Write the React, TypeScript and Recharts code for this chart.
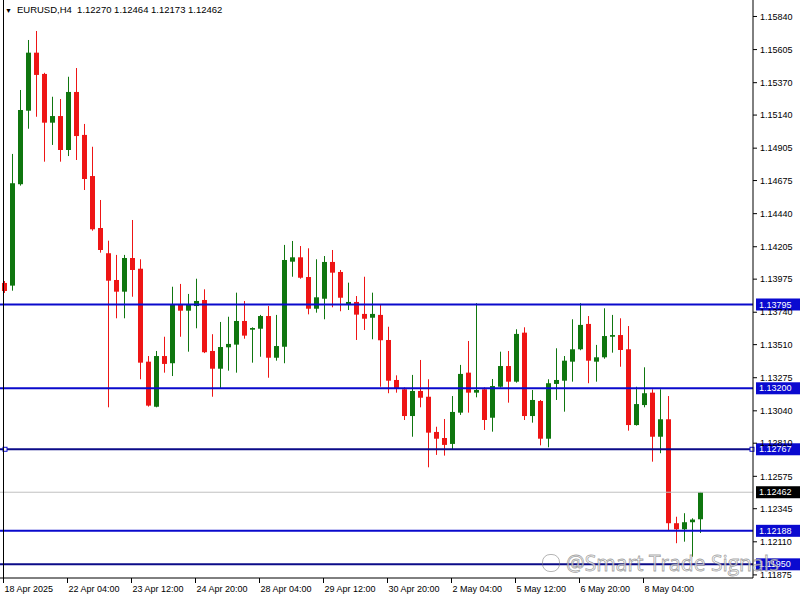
import React from 'react';
import { ComposedChart, Bar, XAxis, YAxis, ReferenceLine } from 'recharts';

// EURUSD H4 candles
const opens = [
  1.13948, 1.13929, 1.14649, 1.15171, 1.15583, 1.15432, 1.15086, 1.15133, 1.14892, 1.15304,
  1.14999, 1.14707, 1.14338, 1.14159, 1.13969, 1.13886, 1.14125, 1.14049, 1.13389, 1.13069,
  1.13429, 1.13378, 1.13792, 1.13751, 1.13784, 1.13827, 1.13465, 1.13339, 1.13491, 1.13510,
  1.13678, 1.13616, 1.13623, 1.13713, 1.13417, 1.13495, 1.14099, 1.14130, 1.13990, 1.13765,
  1.13836, 1.14097, 1.14026, 1.13794, 1.13813, 1.13728, 1.13701, 1.13721, 1.13543, 1.13259,
  1.13193, 1.13003, 1.13181, 1.13140, 1.12890, 1.12847, 1.12805, 1.13027, 1.13311, 1.13169,
  1.13193, 1.12991, 1.13211, 1.13358, 1.13247, 1.13595, 1.13003, 1.13110, 1.12842, 1.13231,
  1.13254, 1.13389, 1.13477, 1.13657, 1.13389, 1.13420, 1.13566, 1.13578, 1.13477, 1.12939,
  1.13081, 1.13169, 1.12856, 1.12980, 1.12242, 1.12199, 1.12249, 1.12270,
];
const highs = [
  1.13962, 1.14864, 1.15318, 1.15673, 1.15737, 1.15440, 1.15270, 1.15254, 1.15412, 1.15474,
  1.15077, 1.14915, 1.14537, 1.14248, 1.14147, 1.14147, 1.14395, 1.14116, 1.13429, 1.13465,
  1.13566, 1.13921, 1.13941, 1.13870, 1.13978, 1.13903, 1.13584, 1.13671, 1.13708, 1.13879,
  1.13820, 1.13633, 1.13721, 1.13784, 1.13721, 1.14218, 1.14246, 1.14210, 1.14194, 1.14116,
  1.14139, 1.14182, 1.14040, 1.13950, 1.13855, 1.13992, 1.13879, 1.13792, 1.13637, 1.13292,
  1.13207, 1.13295, 1.13401, 1.13264, 1.12927, 1.12982, 1.13145, 1.13366, 1.13536, 1.13804,
  1.13207, 1.13266, 1.13460, 1.13465, 1.13619, 1.13633, 1.13188, 1.13117, 1.13264, 1.13484,
  1.13429, 1.13690, 1.13804, 1.13713, 1.13508, 1.13768, 1.13721, 1.13697, 1.13642, 1.13211,
  1.13349, 1.13193, 1.13193, 1.13145, 1.12288, 1.12313, 1.12277, 1.12464,
];
const lows = [
  1.13877, 1.13893, 1.14639, 1.15043, 1.15128, 1.14809, 1.14928, 1.14809, 1.14849, 1.14821,
  1.14608, 1.14319, 1.14163, 1.13065, 1.13697, 1.13697, 1.13850, 1.13264, 1.13070, 1.13065,
  1.13311, 1.13287, 1.13566, 1.13460, 1.13626, 1.13450, 1.13140, 1.13200, 1.13325, 1.13311,
  1.13552, 1.13382, 1.13424, 1.13275, 1.13396, 1.13378, 1.13992, 1.13978, 1.13725, 1.13737,
  1.13690, 1.13775, 1.13747, 1.13756, 1.13543, 1.13614, 1.13548, 1.13211, 1.13165, 1.13169,
  1.12975, 1.12856, 1.13065, 1.12639, 1.12727, 1.12722, 1.12767, 1.13011, 1.13027, 1.13136,
  1.12904, 1.12892, 1.13205, 1.13098, 1.13240, 1.12975, 1.12956, 1.12795, 1.12781, 1.13117,
  1.13034, 1.13247, 1.13470, 1.13236, 1.13247, 1.13410, 1.13453, 1.13353, 1.12899, 1.12935,
  1.13065, 1.12679, 1.12739, 1.12194, 1.12100, 1.12111, 1.12004, 1.12173,
];
const closes = [
  1.13891, 1.14656, 1.15176, 1.15583, 1.15425, 1.15086, 1.15133, 1.14892, 1.15304, 1.14991,
  1.14686, 1.14329, 1.14182, 1.13964, 1.13886, 1.14125, 1.14040, 1.13382, 1.13077, 1.13429,
  1.13373, 1.13792, 1.13751, 1.13792, 1.13820, 1.13456, 1.13339, 1.13493, 1.13515, 1.13678,
  1.13574, 1.13628, 1.13713, 1.13417, 1.13500, 1.14111, 1.14130, 1.13985, 1.13765, 1.13846,
  1.14097, 1.14021, 1.13843, 1.13813, 1.13723, 1.13694, 1.13728, 1.13541, 1.13254, 1.13200,
  1.13003, 1.13181, 1.13133, 1.12885, 1.12842, 1.12798, 1.13032, 1.13302, 1.13169, 1.13188,
  1.12975, 1.13216, 1.13358, 1.13247, 1.13586, 1.13003, 1.13117, 1.12842, 1.13236, 1.13259,
  1.13396, 1.13477, 1.13650, 1.13396, 1.13420, 1.13571, 1.13578, 1.13472, 1.12939, 1.13088,
  1.13165, 1.12856, 1.12980, 1.12242, 1.12199, 1.12249, 1.12268, 1.12462,
];

const timeLabels = [
  '18 Apr 2025', '22 Apr 04:00', '23 Apr 12:00', '24 Apr 20:00', '28 Apr 04:00', '29 Apr 12:00',
  '30 Apr 20:00', '2 May 04:00', '5 May 12:00', '6 May 20:00', '8 May 04:00',
];
const yTicks = [
  1.1584, 1.15605, 1.1537, 1.1514, 1.14905, 1.14675, 1.1444, 1.14205, 1.13975, 1.1374,
  1.1351, 1.13275, 1.1304, 1.1281, 1.12575, 1.12345, 1.1211, 1.11875,
];
const levels = [1.13795, 1.132, 1.12767, 1.12188, 1.1195];
const lastPrice = 1.12462;

const BARS_PER_LABEL = 8;
const FONT = '"Liberation Sans", "DejaVu Sans", sans-serif';
const UP = '#0f760f';
const DOWN = '#ee1515';

const data = opens.map((open, i) => ({
  i,
  open,
  high: highs[i],
  low: lows[i],
  close: closes[i],
  range: [lows[i], highs[i]],
}));

const Candle = (props: any) => {
  const { x, y, width, height, payload } = props;
  if (!payload) return null;
  const top = Math.min(y, y + height);
  const h = Math.abs(height);
  const { open, close, high, low } = payload;
  const pxPer = h / (high - low);
  const bodyTop = top + (high - Math.max(open, close)) * pxPer;
  const bodyBot = top + (high - Math.min(open, close)) * pxPer;
  const color = close >= open ? UP : DOWN;
  const bx = Math.round(x);
  const cx = bx + width / 2;
  return (
    <g>
      <line x1={cx} x2={cx} y1={top} y2={top + h} stroke={color} strokeWidth={1} />
      <rect x={bx} y={bodyTop} width={width} height={Math.max(bodyBot - bodyTop, 1.5)} fill={color} />
    </g>
  );
};

const TimeTick = (props: any) => {
  const { x, y, payload } = props;
  const label = timeLabels[payload.value / BARS_PER_LABEL];
  if (!label) return null;
  const x0 = Math.round(x) - 0.5;
  return (
    <g>
      <line x1={x0} x2={x0} y1={y - 8} y2={y - 3} stroke="#000" />
      <text x={x0 + 1} y={y + 6} fontSize={9} fontFamily={FONT} fill="#000">
        {label}
      </text>
    </g>
  );
};

const Tag = (props: any) => {
  const { viewBox, text, bg, handles } = props;
  if (!viewBox) return null;
  const x = viewBox.x + viewBox.width;
  const y = viewBox.y;
  return (
    <g>
      {handles && (
        <>
          <rect x={3} y={y - 2} width={4} height={4} fill="#fff" stroke={bg} />
          <rect x={x - 3} y={y - 2} width={4} height={4} fill="#fff" stroke={bg} />
        </>
      )}
      <rect x={x + 3} y={y - 6} width={44} height={12} fill={bg} />
      <text x={x + 6} y={y} dy="0.35em" fontSize={9} fontFamily={FONT} fill="#fff">
        {text}
      </text>
    </g>
  );
};

export default function App() {
  return (
    <div style={{ position: 'absolute', left: 0, top: 0, width: 800, height: 600, background: '#fff', overflow: 'hidden' }}>
      <ComposedChart width={800} height={600} data={data} margin={{ top: 0, right: 0, bottom: 0, left: 0 }}>
        <XAxis
          dataKey="i"
          height={22}
          interval={BARS_PER_LABEL - 1}
          padding={{ left: 0, right: 49 }}
          axisLine={{ stroke: '#000' }}
          tickLine={false}
          tick={<TimeTick />}
        />
        <YAxis
          orientation="right"
          type="number"
          width={47}
          domain={[1.11853, 1.15957]}
          allowDataOverflow
          ticks={yTicks}
          interval={0}
          tickFormatter={(v: number) => v.toFixed(5)}
          tickSize={4}
          tickMargin={3}
          axisLine={{ stroke: '#000' }}
          tickLine={{ stroke: '#000' }}
          tick={{ fontSize: 9, fill: '#000', fontFamily: FONT }}
        />
        <Bar dataKey="range" barSize={5} shape={<Candle />} isAnimationActive={false} />
        <ReferenceLine
          y={lastPrice}
          stroke="#c0c0c0"
          strokeWidth={1}
          label={<Tag text={lastPrice.toFixed(5)} bg="#000" />}
        />
        {levels.map((lv, k) => (
          <ReferenceLine
            key={lv}
            y={lv}
            stroke={k === 2 || k === 4 ? '#0b0b88' : '#0a0acc'}
            strokeWidth={2}
            label={<Tag text={lv.toFixed(5)} bg="#0a0ad0" handles={k === 2} />}
          />
        ))}
      </ComposedChart>
      <div style={{ position: 'absolute', left: 3, top: 0, width: 1, height: 578, background: '#000' }} />
      <div style={{ position: 'absolute', left: 5, top: 4, fontSize: 9.5, fontFamily: FONT, color: '#000', whiteSpace: 'pre', lineHeight: '12px' }}>
        <span style={{ fontSize: 7, marginRight: 5 }}>▼</span>
        {'EURUSD,H4  1.12270 1.12464 1.12173 1.12462'}
      </div>
      <div
        style={{
          position: 'absolute',
          left: 542,
          top: 549,
          fontSize: 21,
          fontFamily: '"Open Sans", sans-serif',
          color: 'rgba(255,255,255,0.7)',
          WebkitTextStroke: '0.8px rgba(100,100,100,0.6)',
          whiteSpace: 'pre',
          display: 'flex',
          alignItems: 'center',
        }}
      >
        <span
          style={{
            display: 'inline-block',
            width: 16,
            height: 16,
            borderRadius: 8,
            border: '1.5px solid rgba(120,120,120,0.55)',
            marginRight: 6,
          }}
        />
        @Smart Trade Signals
      </div>
    </div>
  );
}
